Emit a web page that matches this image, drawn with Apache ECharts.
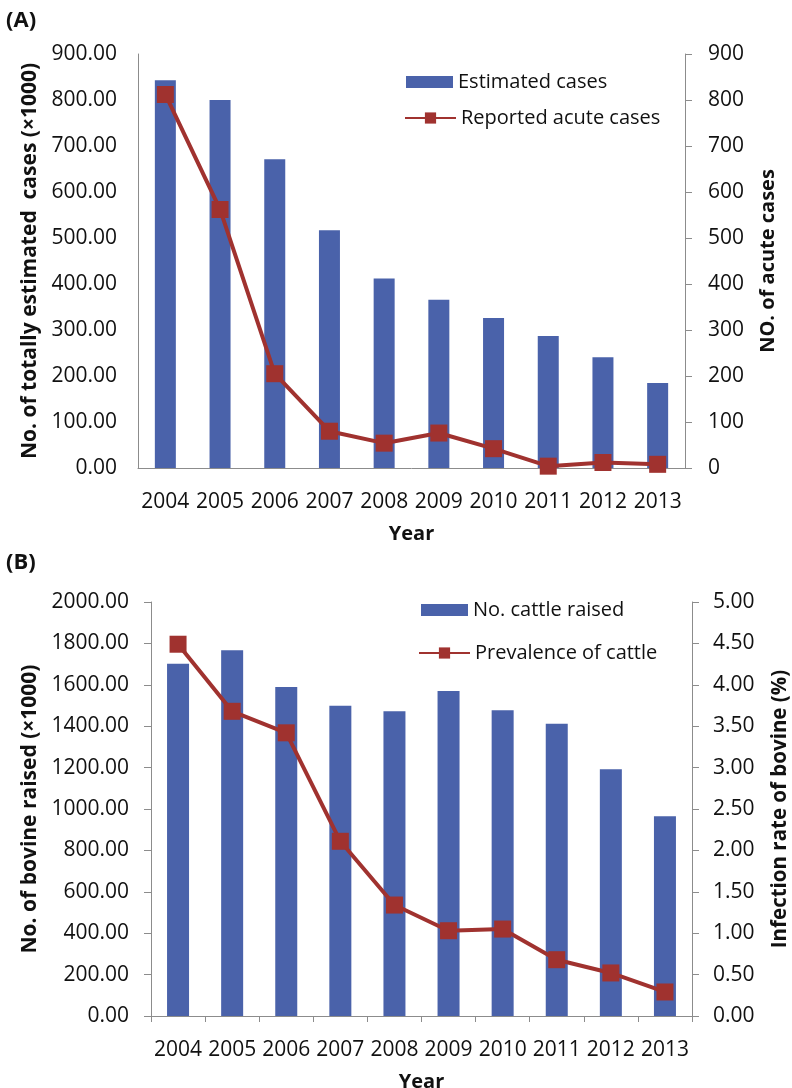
<!DOCTYPE html>
<html>
<head>
<meta charset="utf-8">
<script src="https://cdn.jsdelivr.net/npm/echarts@6/dist/echarts.min.js"></script>
<style>
html,body{margin:0;padding:0;background:#fff;}
#c{width:792px;height:1088px;}
</style>
</head>
<body>
<div id="c"></div>
<script>
// ---- data ----
var years = ['2004','2005','2006','2007','2008','2009','2010','2011','2012','2013'];
// Panel A
var estimatedCases = [843, 800, 671, 517, 412, 366, 326, 287, 241, 185];   // x1000
var reportedAcute = [812, 562, 205, 80, 54, 76, 42, 4, 12, 8];
// Panel B
var cattleRaised = [1702, 1767, 1589, 1499, 1472, 1570, 1477, 1412, 1192, 965]; // x1000
var prevalence = [4.49, 3.68, 3.42, 2.11, 1.34, 1.03, 1.05, 0.68, 0.52, 0.29];

var BAR = '#4A62AA';
var RED = '#A0322F';
var AXIS = '#8c8c8c';
var FONT = 'Open Sans';

var chart = echarts.init(document.getElementById('c'), null, {renderer:'canvas'});

function tickLabel(fmt, margin){
  return {color:'#111', fontFamily:FONT, fontSize:21, formatter:fmt, margin:margin};
}
function nameStyle(sz){ return {color:'#111', fontFamily:FONT, fontSize:sz, fontWeight:'bold'}; }

var option = {
  animation:false,
  backgroundColor:'#fff',
  textStyle:{fontFamily:FONT},
  graphic:[
    {type:'text', left:6, top:10, style:{text:'(A)', font:'bold 22px "Open Sans"', fill:'#111'}},
    {type:'text', left:6, top:552, style:{text:'(B)', font:'bold 22px "Open Sans"', fill:'#111'}}
  ],
  legend:[
    {data:[{name:'Estimated cases', icon:'rect'}], left:406, top:72, padding:0, itemWidth:47, itemHeight:12,
     textStyle:{fontFamily:FONT, fontSize:20, color:'#111', lineHeight:20}},
    {data:['Reported acute cases'], left:404, top:108, padding:0, itemWidth:51, itemHeight:14,
     textStyle:{fontFamily:FONT, fontSize:20, color:'#111', lineHeight:20}},
    {data:[{name:'No. cattle raised', icon:'rect'}], left:421, top:600, padding:0, itemWidth:47, itemHeight:12,
     textStyle:{fontFamily:FONT, fontSize:20, color:'#111', lineHeight:20}},
    {data:['Prevalence of cattle'], left:418, top:643, padding:0, itemWidth:51, itemHeight:14,
     textStyle:{fontFamily:FONT, fontSize:20, color:'#111', lineHeight:20}}
  ],
  grid:[
    {left:138, right:107, top:54, bottom:620, outerBoundsMode:'none', containLabel:false},
    {left:151, right:100, top:602, bottom:72, outerBoundsMode:'none', containLabel:false}
  ],
  xAxis:[
    {type:'category', gridIndex:0, data:years,
     name:'Year', nameLocation:'middle', nameGap:56, nameTextStyle:nameStyle(20),
     axisLine:{lineStyle:{color:AXIS, width:1}}, axisTick:{show:false},
     axisLabel:{color:'#111', fontFamily:FONT, fontSize:21, margin:24, interval:0}},
    {type:'category', gridIndex:1, data:years,
     name:'Year', nameLocation:'middle', nameGap:56, nameTextStyle:nameStyle(20),
     axisLine:{lineStyle:{color:AXIS, width:1}}, axisTick:{show:true, length:6, lineStyle:{color:AXIS}},
     axisLabel:{color:'#111', fontFamily:FONT, fontSize:21, margin:24, interval:0}}
  ],
  yAxis:[
    {type:'value', gridIndex:0, min:0, max:900, interval:100, position:'left',
     name:'No. of totally estimated  cases (×1000)', nameLocation:'middle', nameGap:96, nameRotate:90,
     nameTextStyle:nameStyle(21),
     axisLine:{show:true, lineStyle:{color:AXIS}}, axisTick:{show:false}, splitLine:{show:false},
     axisLabel:tickLabel(function(v){return v.toFixed(2);}, 21)},
    {type:'value', gridIndex:0, min:0, max:900, interval:100, position:'right',
     name:'NO. of acute cases', nameLocation:'middle', nameGap:73, nameRotate:90,
     nameTextStyle:nameStyle(20),
     axisLine:{show:true, lineStyle:{color:AXIS}}, axisTick:{show:true, length:7, lineStyle:{color:AXIS}}, splitLine:{show:false},
     axisLabel:tickLabel(function(v){return String(v);}, 23)},
    {type:'value', gridIndex:1, min:0, max:2000, interval:200, position:'left',
     name:'No. of bovine raised (×1000)', nameLocation:'middle', nameGap:109, nameRotate:90,
     nameTextStyle:nameStyle(21),
     axisLine:{show:true, lineStyle:{color:AXIS}}, axisTick:{show:true, length:7, lineStyle:{color:AXIS}}, splitLine:{show:false},
     axisLabel:tickLabel(function(v){return v.toFixed(2);}, 22)},
    {type:'value', gridIndex:1, min:0, max:5, interval:0.5, position:'right',
     name:'Infection rate of bovine (%)', nameLocation:'middle', nameGap:78, nameRotate:90,
     nameTextStyle:nameStyle(20.5),
     axisLine:{show:true, lineStyle:{color:AXIS}}, axisTick:{show:true, length:7, lineStyle:{color:AXIS}}, splitLine:{show:false},
     axisLabel:tickLabel(function(v){return v.toFixed(2);}, 21)}
  ],
  series:[
    {name:'Estimated cases', type:'bar', xAxisIndex:0, yAxisIndex:0, data:estimatedCases,
     barWidth:21, itemStyle:{color:BAR}},
    {name:'Reported acute cases', type:'line', xAxisIndex:0, yAxisIndex:1, data:reportedAcute,
     symbol:'rect', symbolSize:17, lineStyle:{color:RED, width:4}, itemStyle:{color:RED}},
    {name:'No. cattle raised', type:'bar', xAxisIndex:1, yAxisIndex:2, data:cattleRaised,
     barWidth:22, itemStyle:{color:BAR}},
    {name:'Prevalence of cattle', type:'line', xAxisIndex:1, yAxisIndex:3, data:prevalence,
     symbol:'rect', symbolSize:17, lineStyle:{color:RED, width:4}, itemStyle:{color:RED}}
  ]
};
chart.setOption(option);
</script>
</body>
</html>
